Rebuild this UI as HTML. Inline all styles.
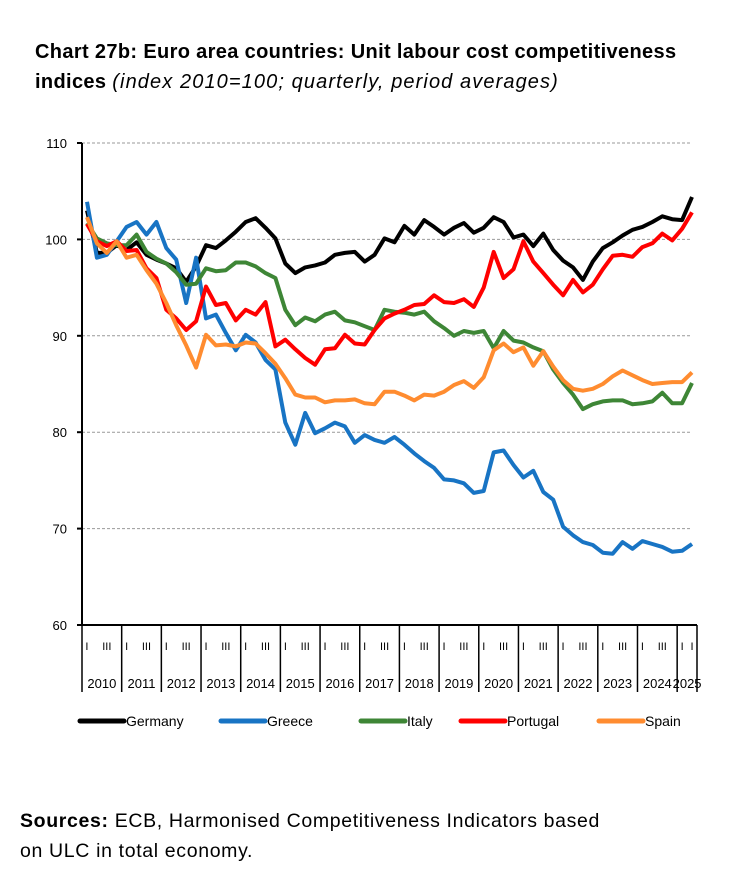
<!DOCTYPE html>
<html><head><meta charset="utf-8">
<style>
body{margin:0;background:#fff;width:734px;height:880px;overflow:hidden;font-family:"Liberation Sans",sans-serif}
.title{position:absolute;left:35px;top:37px;font-size:20px;font-weight:bold;line-height:30px;color:#000;white-space:nowrap;letter-spacing:0.35px}
.title i{font-weight:normal;letter-spacing:1.1px}
.src{position:absolute;left:20px;top:806px;font-size:19.5px;line-height:30px;color:#000;letter-spacing:0.65px;white-space:nowrap}
</style></head><body>
<div class="title">Chart 27b: Euro area countries: Unit labour cost competitiveness<br>indices <i>(index 2010=100; quarterly, period averages)</i></div>
<svg id="chart" width="734" height="880" style="position:absolute;left:0;top:0" xmlns="http://www.w3.org/2000/svg"></svg>
<div class="src"><b>Sources:</b> ECB, Harmonised Competitiveness Indicators based<br>on ULC in total economy.</div>
<script>
const years=["2010","2011","2012","2013","2014","2015","2016","2017","2018","2019","2020","2021","2022","2023","2024","2025"];
const yTicks=[60,70,80,90,100,110];
const seriesNames=["Germany","Greece","Italy","Portugal","Spain"];
const seriesColors=["#000000","#1874c4","#3e8636","#ff0000","#ff8c30"];
const germany=[103,98.6,98.6,99.4,98.9,99.7,98.4,97.9,97.5,97,95.6,97.2,99.4,99.1,99.9,100.8,101.8,102.2,101.2,100.1,97.5,96.5,97.1,97.3,97.6,98.4,98.6,98.7,97.7,98.4,100.1,99.7,101.4,100.5,102,101.3,100.5,101.2,101.7,100.7,101.2,102.3,101.8,100.2,100.5,99.3,100.6,98.9,97.8,97.1,95.8,97.7,99.1,99.7,100.4,101,101.3,101.8,102.4,102.1,102,104.4];
const greece=[103.9,98.1,98.4,99.8,101.3,101.8,100.5,101.8,99.1,97.9,93.4,98.1,91.8,92.2,90.3,88.5,90.1,89.3,87.5,86.5,81,78.7,82,79.9,80.4,81,80.6,78.9,79.7,79.2,78.9,79.5,78.7,77.8,77,76.3,75.1,75,74.7,73.7,73.9,77.9,78.1,76.6,75.3,76,73.8,73,70.2,69.3,68.6,68.3,67.5,67.4,68.6,67.9,68.7,68.4,68.1,67.6,67.7,68.4];
const italy=[101.7,100.1,99.6,99.4,99.4,100.5,98.7,98,97.5,96.6,95.3,95.4,97,96.7,96.8,97.6,97.6,97.2,96.5,96,92.7,91.1,91.9,91.5,92.2,92.5,91.6,91.4,91,90.6,92.7,92.5,92.4,92.2,92.5,91.5,90.8,90,90.5,90.3,90.5,88.7,90.5,89.5,89.3,88.8,88.4,86.5,85.1,83.9,82.4,82.9,83.2,83.3,83.3,82.9,83,83.2,84.1,83,83,85.1];
const portugal=[101.6,99.8,99.3,99.8,98.8,98.9,97,96,92.7,91.8,90.6,91.5,95.1,93.2,93.4,91.6,92.7,92.2,93.5,88.9,89.6,88.6,87.7,87,88.6,88.7,90.1,89.2,89.1,90.6,91.8,92.3,92.7,93.2,93.3,94.2,93.5,93.4,93.8,93,95,98.7,96,96.9,99.8,97.7,96.5,95.3,94.2,95.8,94.5,95.3,96.9,98.3,98.4,98.2,99.2,99.6,100.6,99.9,101.1,102.8];
const spain=[102.3,99.6,98.6,99.8,98.1,98.4,96.8,95.4,93.4,91.1,89,86.7,90.1,89,89.1,88.9,89.3,89.2,88.2,87.1,85.6,83.9,83.6,83.6,83.1,83.3,83.3,83.4,83,82.9,84.2,84.2,83.8,83.3,83.9,83.8,84.2,84.9,85.3,84.6,85.7,88.5,89.2,88.3,88.8,86.9,88.4,86.8,85.4,84.5,84.3,84.5,85,85.8,86.4,85.9,85.4,85,85.1,85.2,85.2,86.2];
const allSeries=[germany,greece,italy,portugal,spain];

const svg=document.getElementById('chart');
const NS="http://www.w3.org/2000/svg";
const X0=82,X1=697,Y0=625,Y1=143,NQ=germany.length;
const qw=(X1-X0)/NQ;
function xq(i){return X0+(i+0.5)*qw;}
function yv(v){return Y0-(v-60)/(110-60)*(Y0-Y1);}
function mk(tag,attrs){const e=document.createElementNS(NS,tag);for(const k in attrs)e.setAttribute(k,attrs[k]);svg.appendChild(e);return e;}

yTicks.forEach(t=>{
  const y=yv(t);
  if(t>60){const g=mk('line',{x1:X0,x2:X1-6,y1:y,y2:y,stroke:'#999','stroke-width':1,'stroke-dasharray':'3,2'});
  
  }
  const tk=mk('line',{x1:X0-5,x2:X0,y1:y,y2:y,stroke:'#000','stroke-width':2});
  
  
  const tx=mk('text',{x:X0-15,y:y+5,'text-anchor':'end','font-size':13,fill:'#000'});
  tx.textContent=t;
  
  
});
const ya=mk('line',{x1:X0,x2:X0,y1:Y1,y2:Y0,stroke:'#000','stroke-width':2});


const xa=mk('line',{x1:X0,x2:X1,y1:Y0,y2:Y0,stroke:'#000','stroke-width':2});



years.forEach((yr,k)=>{
  const xs=X0+k*4*qw;
  const sep=mk('line',{x1:xs,x2:xs,y1:Y0,y2:692,stroke:'#000','stroke-width':1.5});
  
  
  const q1=mk('text',{x:xq(k*4),y:650,'text-anchor':'middle','font-size':11,fill:'#000'});
  q1.textContent='I';
  
  
  const qi=k*4+2<NQ?k*4+2:k*4+1;
  const q3=mk('text',{x:xq(qi),y:650,'text-anchor':'middle','font-size':11,fill:'#000'});
  q3.textContent=k*4+2<NQ?'III':'I';
  
  
  const end=Math.min(NQ,(k+1)*4);
  const yt=mk('text',{x:(xs+X0+end*qw)/2,y:688,'text-anchor':'middle','font-size':13,fill:'#000'});
  yt.textContent=yr;
  
  
});
const endSep=mk('line',{x1:X1,x2:X1,y1:Y0,y2:692,stroke:'#000','stroke-width':1.5});



allSeries.forEach((s,j)=>{
  const d=s.map((v,i)=>(i?'L':'M')+xq(i).toFixed(1)+','+yv(v).toFixed(1)).join(' ');
  const p=mk('path',{d:d,fill:'none',stroke:seriesColors[j],'stroke-width':4,'stroke-linejoin':'round'});
  
  
});

const legX=[80,221,361,461,599];
seriesNames.forEach((n,j)=>{
  const l=mk('line',{x1:legX[j],x2:legX[j]+44,y1:721,y2:721,stroke:seriesColors[j],'stroke-width':5,'stroke-linecap':'round'});
  
  
  const t=mk('text',{x:legX[j]+46,y:726,'font-size':14,fill:'#000'});
  t.textContent=n;
  
  
});
</script>
</body></html>
